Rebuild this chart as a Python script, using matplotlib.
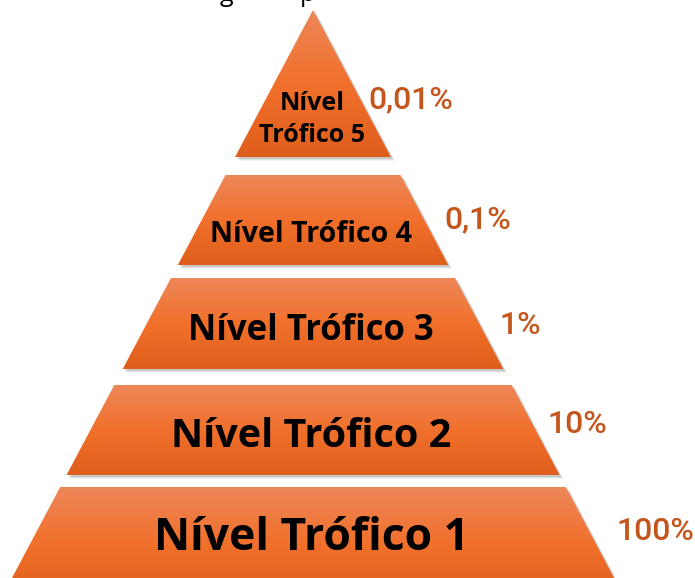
import numpy as np
import matplotlib.pyplot as plt
from matplotlib.colors import LinearSegmentedColormap
from matplotlib.patches import Polygon

# trophic levels from the base to the top, with the energy passed on
levels = ['Nível Trófico 1', 'Nível Trófico 2', 'Nível Trófico 3',
          'Nível Trófico 4', 'Nível\nTrófico 5']
energy = ['100%', '10%', '1%', '0,1%', '0,01%']

# layout, in pixels (y grows downwards)
W, H = 695, 578
apex_x, apex_y = 313, 10
slope = 0.53
bands = [(487, 600), (385, 475), (278, 369), (175, 265), (10, 157)]
name_size = [32, 28.5, 25, 20.5, 18]
name_base = [550, 447, 340, 242, 142]
pct_pos = [(655, 540), (577, 433), (520, 334), (478, 228), (411, 108)]

orange = LinearSegmentedColormap.from_list(
    'band', ['#ED8758', '#F1702C', '#E05E1B'])

fig = plt.figure(figsize=(W / 100, H / 100), dpi=100)
ax = fig.add_axes([0, 0, 1, 1])
ax.set_xlim(0, W)
ax.set_ylim(H, 0)
ax.axis('off')


def half_width(y):
    return slope * (y - apex_y)


for i, (top, bottom) in enumerate(bands):
    ht, hb = half_width(top), half_width(bottom)
    pts = [(apex_x - ht, top), (apex_x + ht, top),
           (apex_x + hb, bottom), (apex_x - hb, bottom)]

    # soft drop shadow
    for k, a in [(4, 0.08), (3, 0.12), (2, 0.18)]:
        sh = Polygon([(x + k, y + k) for x, y in pts], closed=True,
                     facecolor='#606060', edgecolor='none', alpha=a, zorder=1)
        ax.add_patch(sh)

    poly = Polygon(pts, closed=True, facecolor='none', edgecolor='none', zorder=2)
    ax.add_patch(poly)
    grad = np.linspace(0, 1, 200).reshape(-1, 1)
    img = ax.imshow(grad, cmap=orange, aspect='auto', zorder=2,
                    extent=(apex_x - hb, apex_x + hb, bottom, top))
    img.set_clip_path(poly)

    if '\n' in levels[i]:
        first, second = levels[i].split('\n')
        ax.text(apex_x - 1, name_base[i] - 32, first, ha='center', va='baseline',
                fontsize=name_size[i], fontweight='bold', family='Open Sans',
                color='black', zorder=3)
        ax.text(apex_x - 1, name_base[i], second, ha='center', va='baseline',
                fontsize=name_size[i], fontweight='bold', family='Open Sans',
                color='black', zorder=3)
    else:
        ax.text(apex_x - 2, name_base[i], levels[i], ha='center', va='baseline',
                fontsize=name_size[i], fontweight='bold', family='Open Sans',
                color='black', zorder=3)

    px, py = pct_pos[i]
    ax.text(px, py, energy[i], ha='center', va='baseline', fontsize=23,
            family='Roboto', fontweight='medium', color='#C4561D', zorder=3)

# bottom of the caption line above the pyramid
ax.text(226, 1, 'g', ha='center', va='baseline', fontsize=18,
        family='Open Sans', color='black')
ax.text(308, 1, 'p', ha='center', va='baseline', fontsize=18,
        family='Open Sans', color='black')

fig.savefig('out.png', dpi=100)
